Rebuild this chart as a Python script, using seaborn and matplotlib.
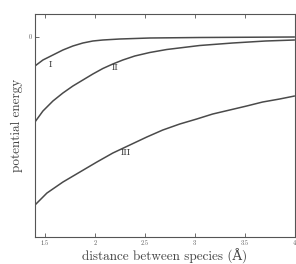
import pandas as pd
import matplotlib.pyplot as plt
import seaborn as sns

# values (arbitrary energy units)
dist_I = [1.40, 1.48, 1.58, 1.68, 1.78, 1.88, 1.98, 2.08, 2.25, 2.55, 3.05, 4.00]
energy_I = [-2.9, -2.3, -1.8, -1.3, -0.9, -0.6, -0.4, -0.3, -0.2, -0.1, -0.05, 0.0]

dist_II = [1.40, 1.48, 1.58, 1.68, 1.78, 1.88, 1.98, 2.08, 2.18, 2.28, 2.40,
           2.55, 2.72, 3.05, 3.38, 3.71, 4.00]
energy_II = [-8.5, -7.4, -6.4, -5.6, -4.9, -4.3, -3.7, -3.15, -2.7, -2.3, -1.9,
             -1.55, -1.25, -0.85, -0.6, -0.4, -0.3]

dist_III = [1.40, 1.52, 1.68, 1.85, 2.02, 2.18, 2.35, 2.52, 2.68, 2.85, 3.02,
            3.18, 3.35, 3.52, 3.68, 3.85, 4.00]
energy_III = [-16.8, -15.6, -14.5, -13.5, -12.5, -11.6, -10.8, -10.0, -9.3, -8.7, -8.2,
              -7.7, -7.3, -6.9, -6.5, -6.2, -5.9]

curve_names = ['I', 'II', 'III']
label_pos = [(1.56, -2.8), (2.2, -3.1), (2.31, -11.6)]
x_ticks = [1.5, 2, 2.5, 3, 3.5, 4]
x_ticklabels = ['1.5', '2', '2.5', '3', '3.5', '4']

sns.set_style('ticks')
plt.rcParams['font.family'] = ['cmr10', 'DejaVu Serif']
plt.rcParams['axes.formatter.use_mathtext'] = True

fig = plt.figure(figsize=(2.96, 2.64), dpi=100)
ax = fig.add_axes([0.118, 0.102, 0.877, 0.845])

line_col = '#4a4a4a'
for xs, ys in [(dist_I, energy_I), (dist_II, energy_II), (dist_III, energy_III)]:
    df = pd.DataFrame({'d': xs, 'e': ys})
    sns.lineplot(x='d', y='e', data=df, ax=ax, color=line_col, lw=1.1)

for name, (lx, ly) in zip(curve_names, label_pos):
    ax.text(lx, ly, name, fontsize=7, ha='center', va='center', color='#333333')

ax.set_xlim(1.4, 4.0)
ax.set_ylim(-20.0, 2.3)
ax.set_xticks(x_ticks)
ax.set_xticklabels(x_ticklabels)
ax.set_yticks([0])
ax.set_yticklabels(['0'])
ax.tick_params(axis='both', direction='in', length=3, width=0.6, labelsize=4.5,
               colors='#555555', pad=2)
ax.tick_params(axis='x', top=True)

for sp in ax.spines.values():
    sp.set_color('#555555')
    sp.set_linewidth(0.8)

ax.set_xlabel('distance between species (Å)', fontsize=9.5, color='#444444', labelpad=2)
ax.set_ylabel('potential energy', fontsize=9.5, color='#444444', labelpad=4)

fig.savefig('out.png', dpi=100)
